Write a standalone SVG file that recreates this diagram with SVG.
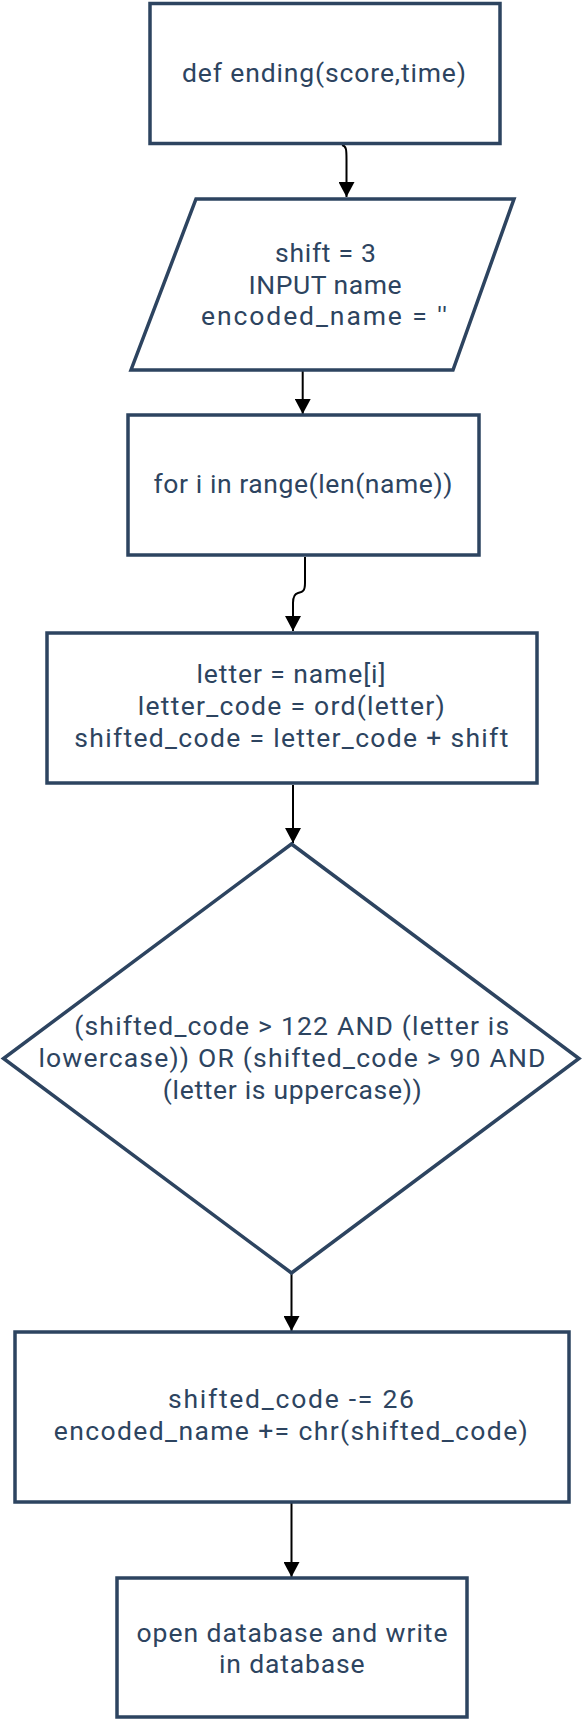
<svg xmlns="http://www.w3.org/2000/svg" width="582" height="1720" viewBox="0 0 582 1720">
<style>
.n{fill:#fff;stroke:#2d4460;stroke-width:3.5}
.t{font-family:Roboto,"Noto Sans",sans-serif;font-size:26.5px;fill:#2d4460;text-anchor:middle}
.c{fill:none;stroke:#000;stroke-width:2}
</style>
<defs>
<marker id="ah" markerUnits="userSpaceOnUse" markerWidth="18" markerHeight="16" refX="15" refY="8" orient="auto">
<path d="M0,0 L15,8 L0,16 Z" fill="#000"/>
</marker>
</defs>
<rect width="582" height="1720" fill="#fff"/>
<g id="connectors">
<path class="c" d="M342,145 C346.5,146 346.5,150 346.5,160 V197" marker-end="url(#ah)"/>
<path class="c" d="M302.7,371 V414" marker-end="url(#ah)"/>
<path class="c" d="M305,557 V583 C305,592 302,592 298,593 C294,594 293,597 293,603 V631" marker-end="url(#ah)"/>
<path class="c" d="M293,785 V843" marker-end="url(#ah)"/>
<path class="c" d="M291.5,1274 V1331" marker-end="url(#ah)"/>
<path class="c" d="M291.5,1503 V1577" marker-end="url(#ah)"/>
</g>
<g id="n1">
<rect class="n" x="150" y="3.5" width="350" height="140"/>
<text class="t" x="324" y="82" textLength="284" lengthAdjust="spacing">def ending(score,time)</text>
</g>
<g id="n2">
<polygon class="n" points="196,199 514,199 453,370 131,370"/>
<text class="t"><tspan x="325.5" y="262" textLength="101">shift = 3</tspan><tspan x="325" y="293.5" textLength="153">INPUT name</tspan><tspan x="324" y="325" textLength="246">encoded_name = ''</tspan></text>
</g>
<g id="n3">
<rect class="n" x="128" y="415" width="351" height="140"/>
<text class="t" x="303" y="493" textLength="299">for i in range(len(name))</text>
</g>
<g id="n4">
<rect class="n" x="47" y="633" width="490" height="150"/>
<text class="t"><tspan x="291" y="683" textLength="189">letter = name[i]</tspan><tspan x="291.3" y="715" textLength="307">letter_code = ord(letter)</tspan><tspan x="291.3" y="747" textLength="434">shifted_code = letter_code + shift</tspan></text>
</g>
<g id="n5">
<polygon class="n" points="291.5,844 579,1058.5 291.5,1273 3.5,1058.5"/>
<text class="t"><tspan x="291.7" y="1035" textLength="435">(shifted_code &gt; 122 AND (letter is</tspan><tspan x="291.9" y="1067" textLength="507">lowercase)) OR (shifted_code &gt; 90 AND</tspan><tspan x="292.3" y="1098.5" textLength="259">(letter is uppercase))</tspan></text>
</g>
<g id="n6">
<rect class="n" x="15" y="1332" width="554" height="170"/>
<text class="t"><tspan x="291" y="1408" textLength="246">shifted_code -= 26</tspan><tspan x="290.8" y="1440" textLength="474">encoded_name += chr(shifted_code)</tspan></text>
</g>
<g id="n7">
<rect class="n" x="117" y="1578" width="350" height="139"/>
<text class="t"><tspan x="292" y="1642" textLength="311">open database and write</tspan><tspan x="291.8" y="1673" textLength="145.5">in database</tspan></text>
</g>
</svg>
